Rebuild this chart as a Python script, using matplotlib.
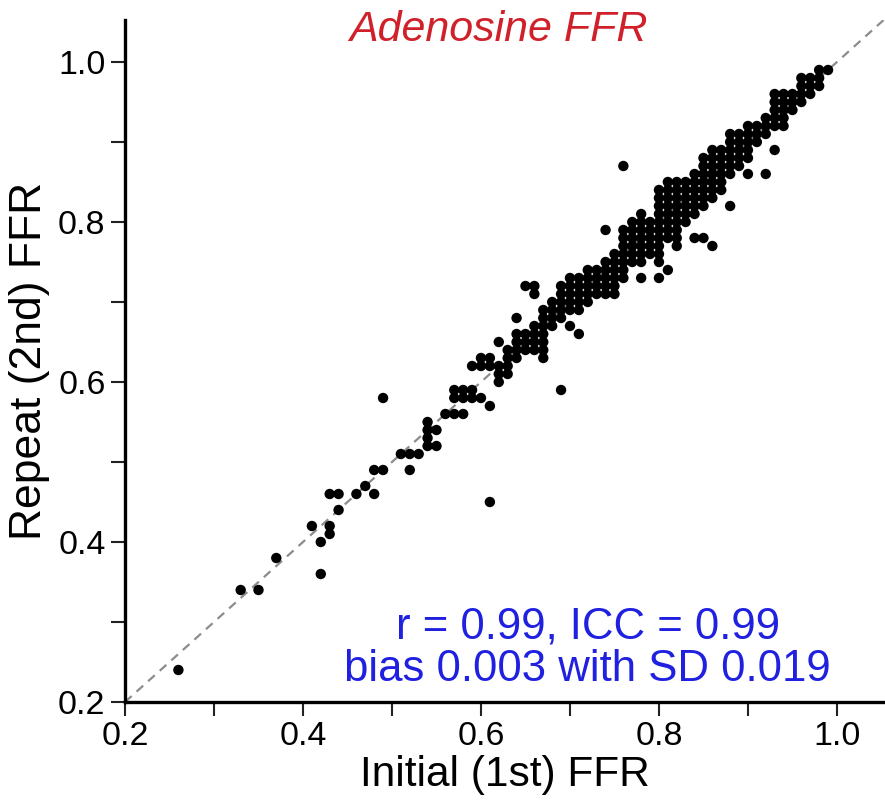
import matplotlib
matplotlib.use("Agg")
import matplotlib.pyplot as plt
from matplotlib.ticker import MultipleLocator, FormatStrFormatter

plt.rcParams['font.family'] = ['Liberation Sans', 'DejaVu Sans']

# scattered points in the low range (initial, repeat)
low_x = [0.26, 0.33, 0.35, 0.37, 0.41, 0.42, 0.42, 0.43, 0.43, 0.43, 0.44, 0.44,
         0.46, 0.47, 0.48, 0.48, 0.49, 0.49, 0.51, 0.52, 0.52, 0.53, 0.54, 0.54,
         0.54, 0.54, 0.55, 0.55, 0.56, 0.57, 0.58, 0.57, 0.58, 0.59, 0.57, 0.58,
         0.59, 0.60, 0.61, 0.59, 0.60, 0.61, 0.60, 0.61, 0.61]
low_y = [0.24, 0.34, 0.34, 0.38, 0.42, 0.40, 0.36, 0.42, 0.41, 0.46, 0.46, 0.44,
         0.46, 0.47, 0.46, 0.49, 0.49, 0.58, 0.51, 0.51, 0.49, 0.51, 0.55, 0.54,
         0.53, 0.52, 0.54, 0.52, 0.56, 0.56, 0.56, 0.59, 0.59, 0.59, 0.58, 0.58,
         0.58, 0.58, 0.57, 0.62, 0.62, 0.62, 0.63, 0.63, 0.45]

# dense band: one initial FFR per column, repeat values (x100) in that column
band_x = [0.62, 0.63, 0.64, 0.65, 0.66, 0.67, 0.68, 0.69, 0.70, 0.71,
          0.72, 0.73, 0.74, 0.75, 0.76, 0.77, 0.78, 0.79, 0.80, 0.81,
          0.82, 0.83, 0.84, 0.85, 0.86, 0.87, 0.88, 0.89, 0.90, 0.91,
          0.92, 0.93, 0.94, 0.95, 0.96, 0.97, 0.98, 0.99]
band_y = [
    [65, 62, 61, 60],
    [64, 63, 62, 61],
    [68, 66, 65, 64, 63],
    [72, 66, 65, 64],
    [72, 71, 67, 66, 65, 64],
    [69, 68, 67, 66, 65, 64, 63],
    [70, 69, 68, 67],
    [72, 71, 70, 69, 68, 59],
    [73, 72, 71, 70, 69, 67],
    [73, 72, 71, 70, 69, 66],
    [74, 73, 72, 71, 70],
    [74, 73, 72, 71],
    [79, 75, 74, 73, 72, 71],
    [76, 75, 74, 73, 72, 71],
    [87, 79, 78, 77, 76, 75, 74, 73],
    [80, 79, 78, 77, 76, 75],
    [81, 80, 79, 78, 77, 76, 75, 73],
    [80, 79, 78, 77, 76],
    [84, 83, 82, 81, 80, 79, 78, 77, 76, 75, 73],
    [85, 84, 83, 82, 81, 80, 79, 78, 74],
    [85, 84, 83, 82, 81, 80, 79, 78, 77],
    [85, 84, 83, 82, 81, 80],
    [86, 85, 84, 83, 82, 81, 78],
    [88, 87, 86, 85, 84, 83, 82, 78],
    [89, 88, 87, 86, 85, 84, 83, 77],
    [89, 88, 87, 86, 85, 84],
    [91, 90, 89, 88, 87, 86, 82],
    [91, 90, 89, 88, 87],
    [92, 91, 90, 89, 88, 86],
    [92, 91, 90],
    [93, 92, 91, 86],
    [96, 95, 94, 93, 92, 89],
    [96, 95, 94, 93, 92],
    [96, 95, 94],
    [98, 97, 96, 95],
    [98, 97, 96],
    [99, 98, 97],
    [99],
]

xs = list(low_x)
ys = list(low_y)
for bx, col in zip(band_x, band_y):
    for v in col:
        xs.append(bx)
        ys.append(v / 100)

fig = plt.figure(figsize=(8.85, 8.0), dpi=100)
ax = fig.add_axes([125 / 885, 98 / 800, 760 / 885, 682 / 800])

lo, hi = 0.2, 1.054
ax.plot([lo, hi], [lo, hi], ls=(0, (4, 3)), color="#8c8c8c", lw=1.6, zorder=1)
ax.scatter(xs, ys, s=56, color="black", edgecolors="none", zorder=2)

ax.set_xlim(0.2, 1.054)
ax.set_ylim(0.2, 1.0525)
for side in ["top", "right"]:
    ax.spines[side].set_visible(False)
for side in ["left", "bottom"]:
    ax.spines[side].set_linewidth(2.4)

for a in (ax.xaxis, ax.yaxis):
    a.set_major_locator(MultipleLocator(0.2))
    a.set_minor_locator(MultipleLocator(0.1))
    a.set_major_formatter(FormatStrFormatter("%.1f"))
ax.tick_params(which="both", direction="out", length=10, width=1.5, color="#222222")
ax.tick_params(axis="both", which="major", labelsize=24.5, pad=4)

ax.set_xlabel("Initial (1st) FFR", fontsize=30.5, labelpad=2)
ax.set_ylabel("Repeat (2nd) FFR", fontsize=32, labelpad=6)

ax.text(0.619, 1.04, "Adenosine FFR", fontsize=31, style="italic",
        color="#d0202a", ha="center", va="center")
ax.text(0.72, 0.2675, "r = 0.99, ICC = 0.99\nbias 0.003 with SD 0.019",
        fontsize=31.5, color="#2020e0", ha="center", va="center", linespacing=1.05)

fig.savefig("out.png", dpi=100)
